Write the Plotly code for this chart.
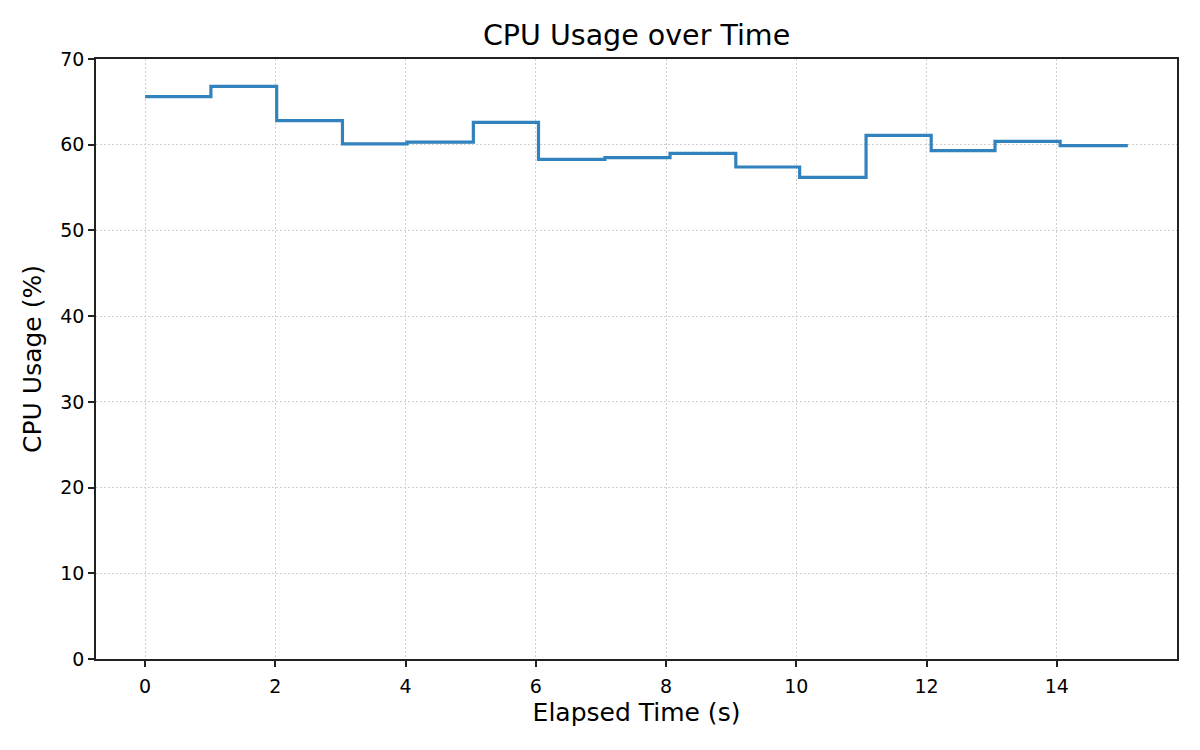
import plotly.graph_objects as go

# Muestras de uso de CPU (tiempo transcurrido en segundos, porcentaje).
elapsed = [0.0, 1.01, 2.02, 3.03, 4.02, 5.04, 6.04, 7.06, 8.06,
           9.07, 10.05, 11.07, 12.07, 13.05, 14.05, 15.09]
cpu = [65.6, 66.8, 62.8, 60.1, 60.3, 62.6, 58.3, 58.5, 59.0,
       57.4, 56.2, 61.1, 59.3, 60.4, 59.9, 59.9]
x_ticks = [0, 2, 4, 6, 8, 10, 12, 14]
y_ticks = [0, 10, 20, 30, 40, 50, 60, 70]

fig = go.Figure()
fig.add_trace(go.Scatter(x=elapsed, y=cpu, mode="lines",
                         line=dict(shape="hv", color="#3182bd", width=3.2)))

axis_style = dict(showline=True, linecolor="#222", linewidth=1.5, mirror=True,
                  ticks="outside", ticklen=6, tickwidth=1.5, tickcolor="#222",
                  showgrid=True, gridcolor="#cfcfcf", griddash="2px,2px", gridwidth=1,
                  zeroline=False, tickfont=dict(size=19, color="black"))

span = elapsed[-1] - elapsed[0]
fig.update_layout(
    width=1200, height=750,
    template="none",
    paper_bgcolor="white", plot_bgcolor="white",
    font=dict(family="DejaVu Sans", color="black"),
    title=dict(text="CPU Usage over Time", x=0.5238, xanchor="center",
               y=0.964, yanchor="middle", font=dict(size=28.5)),
    margin=dict(l=88, r=31, t=51, b=99),
    showlegend=False,
    xaxis=dict(axis_style, range=[elapsed[0] - 0.05 * span, elapsed[-1] + 0.05 * span],
               tickvals=x_ticks, ticklabelstandoff=3,
               title=dict(text="Elapsed Time (s)", font=dict(size=25), standoff=8)),
    yaxis=dict(axis_style, range=[0, 70], tickvals=y_ticks,
               title=dict(text="CPU Usage (%)", font=dict(size=25), standoff=12)),
)

fig.write_html("out.html")
